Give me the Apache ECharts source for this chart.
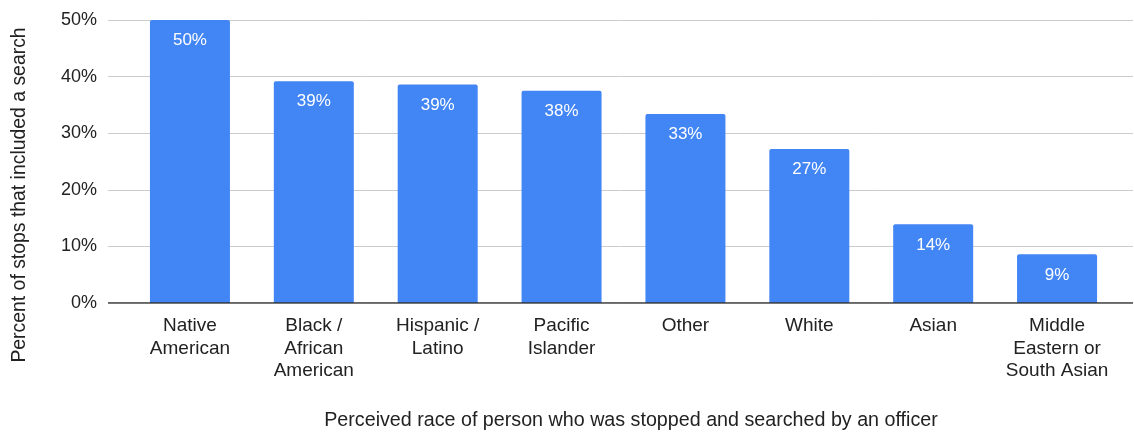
<!DOCTYPE html>
<html>
<head>
<meta charset="utf-8">
<script src="https://cdn.jsdelivr.net/npm/echarts@6/dist/echarts.min.js"></script>
<style>
  html, body { margin: 0; padding: 0; background: #fff; }
  #chart { width: 1134px; height: 433px; }
</style>
</head>
<body>
<div id="chart"></div>
<script>
// Share of stops that included a search, by perceived race
const categories = [
  'Native\nAmerican',
  'Black /\nAfrican\nAmerican',
  'Hispanic /\nLatino',
  'Pacific\nIslander',
  'Other',
  'White',
  'Asian',
  'Middle\nEastern or\nSouth Asian'
];
const searchRates = [50.0, 39.2, 38.6, 37.5, 33.4, 27.2, 13.9, 8.6];
const yTicks = [0, 10, 20, 30, 40, 50];

const yTitle = 'Percent of stops that included a search';
const xTitle = 'Perceived race of person who was stopped and searched by an officer';

const FONT = '"Liberation Sans", Arial, sans-serif';
const yMax = yTicks[yTicks.length - 1];
const yStep = yTicks[1] - yTicks[0];

const chart = echarts.init(document.getElementById('chart'), null, { renderer: 'canvas' });

chart.setOption({
  animation: false,
  backgroundColor: '#ffffff',
  textStyle: { fontFamily: FONT },
  grid: [
    // background grid: gridlines span the full width
    { left: 108, right: 1, top: 20, bottom: 130, containLabel: false },
    // bars
    { left: 128, right: 15, top: 20, bottom: 130, containLabel: false }
  ],
  xAxis: [
    {
      gridIndex: 0, type: 'value', min: 0, max: 1,
      axisLine: { show: false }, axisTick: { show: false },
      axisLabel: { show: false }, splitLine: { show: false }
    },
    {
      gridIndex: 1, type: 'category', data: categories,
      axisLine: { show: false },
      axisTick: { show: false },
      axisLabel: {
        interval: 0, color: '#222', fontSize: 19, lineHeight: 22.5,
        margin: 12, fontFamily: FONT
      }
    }
  ],
  yAxis: [
    {
      gridIndex: 0, type: 'value', min: 0, max: yMax, interval: yStep,
      axisLine: { show: false }, axisTick: { show: false },
      axisLabel: {
        color: '#222', fontSize: 18, margin: 11, fontFamily: FONT,
        formatter: v => v + '%'
      },
      splitLine: { lineStyle: { color: '#cccccc', width: 1 } }
    },
    {
      gridIndex: 1, type: 'value', min: 0, max: yMax, interval: yStep,
      axisLine: { show: false }, axisTick: { show: false },
      axisLabel: { show: false }, splitLine: { show: false }
    }
  ],
  series: [
    {
      // zero baseline across the full grid
      type: 'line', xAxisIndex: 0, yAxisIndex: 0,
      data: [[0, 0], [1, 0]], symbol: 'none', silent: true,
      lineStyle: { color: '#333', width: 1.5 }, z: 5
    },
    {
      type: 'bar', xAxisIndex: 1, yAxisIndex: 1,
      data: searchRates,
      barWidth: 80,
      itemStyle: { color: '#4285F4', borderRadius: [2, 2, 0, 0] },
      label: {
        show: true, position: 'insideTop', distance: 12,
        color: '#ffffff', fontSize: 17, fontFamily: FONT,
        formatter: p => Math.round(p.value) + '%'
      },
      z: 3
    }
  ],
  graphic: [
    {
      type: 'text', x: 631, y: 421,
      style: { text: xTitle, fill: '#222', font: '19.7px ' + FONT, align: 'center', verticalAlign: 'middle' }
    },
    {
      type: 'text', rotation: Math.PI / 2,
      x: 20, y: 195,
      style: { text: yTitle, fill: '#222', font: '19.4px ' + FONT, align: 'center', verticalAlign: 'middle' }
    }
  ]
});
</script>
</body>
</html>
